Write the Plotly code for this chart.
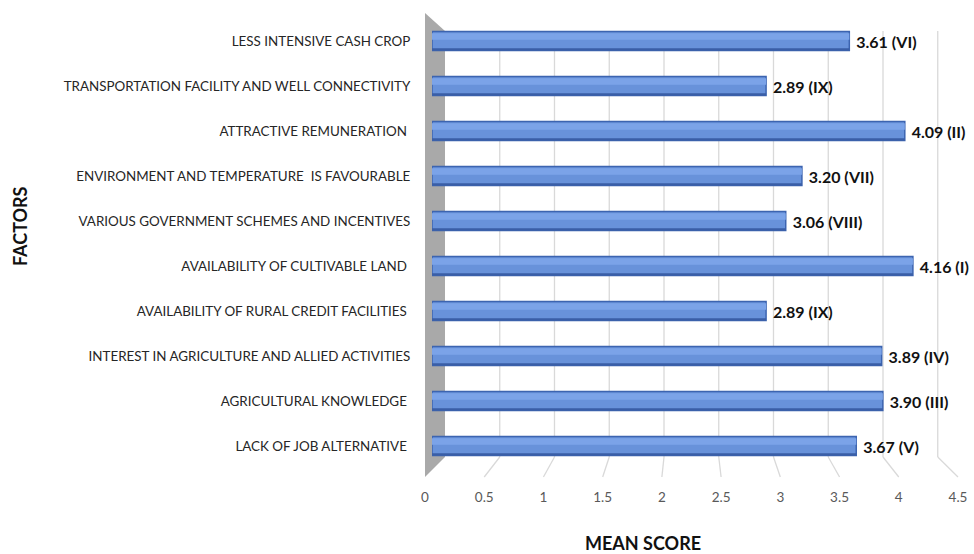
import plotly.graph_objects as go

# ---------------- data ----------------
factors = [
    "LACK OF JOB ALTERNATIVE\u00a0",
    "AGRICULTURAL KNOWLEDGE\u00a0",
    "INTEREST IN AGRICULTURE AND ALLIED ACTIVITIES",
    "AVAILABILITY OF RURAL CREDIT FACILITIES\u00a0",
    "AVAILABILITY OF CULTIVABLE LAND\u00a0",
    "VARIOUS GOVERNMENT SCHEMES AND INCENTIVES",
    "ENVIRONMENT AND TEMPERATURE  IS FAVOURABLE",
    "ATTRACTIVE REMUNERATION\u00a0",
    "TRANSPORTATION FACILITY AND WELL CONNECTIVITY",
    "LESS INTENSIVE CASH CROP",
]
mean_scores = [3.67, 3.90, 3.89, 2.89, 4.16, 3.06, 3.20, 4.09, 2.89, 3.61]
ranks = ["V", "III", "IV", "IX", "I", "VIII", "VII", "II", "IX", "VI"]
tick_values = [0, 0.5, 1, 1.5, 2, 2.5, 3, 3.5, 4, 4.5]
tick_labels = ["0", "0.5", "1", "1.5", "2", "2.5", "3", "3.5", "4", "4.5"]

bar_text = [f"\u00a0{v:.2f} ({r})" for v, r in zip(mean_scores, ranks)]

# ---------------- geometry (pixels) ----------------
W, H = 974, 554
BAR_X0, BAR_PX = 432, 115.6        # bars: value 0 position, px per unit
FRONT_X0, FRONT_PX = 425, 118.44   # tick label line
BACK_X0, BACK_PX = 445, 109.5      # back wall gridlines
BACK_TOP, BACK_BOT, FLOOR_FRONT = 31, 457, 477
WALL_TOP = 13
Y_TOP, Y_BOT = 18.5, 468.5          # category band extent

px = lambda x: x / W
py = lambda y: 1 - y / H

fig = go.Figure()

# main bar body (front face with dark outline)
fig.add_trace(go.Bar(
    y=factors, x=mean_scores, orientation="h",
    width=0.42,
    marker=dict(color="#6892da", line=dict(color="#3c64b0", width=1.5)),
    text=bar_text, textposition="outside", cliponaxis=False,
    constraintext="none",
    textfont=dict(family="Lato", size=16, color="#111111", weight="bold"),
    hoverinfo="skip", showlegend=False,
))
# lighter upper band
fig.add_trace(go.Bar(
    y=factors, x=mean_scores, orientation="h",
    width=0.14, offset=0.03,
    marker=dict(color="#7ba3e8", line=dict(width=0)),
    hoverinfo="skip", showlegend=False,
))
# darker bottom face
fig.add_trace(go.Bar(
    y=factors, x=mean_scores, orientation="h",
    width=0.05, offset=-0.21,
    marker=dict(color="#3a5ea6", line=dict(width=0)),
    hoverinfo="skip", showlegend=False,
))
# dummy trace to carry the tick-label axis
fig.add_trace(go.Scatter(
    x=[tick_values[0]], y=[factors[0]], xaxis="x2", mode="markers",
    marker=dict(opacity=0), hoverinfo="skip", showlegend=False,
))

shapes = []
# grey side wall
shapes.append(dict(
    type="path", xref="paper", yref="paper", layer="below",
    path=(f"M {px(FRONT_X0)} {py(WALL_TOP)} L {px(BACK_X0)} {py(BACK_TOP)} "
          f"L {px(BACK_X0)} {py(BACK_BOT)} L {px(FRONT_X0)} {py(FLOOR_FRONT)} Z"),
    fillcolor="#a9a9a9", line=dict(width=0),
))
for v in tick_values[1:]:
    xb = BACK_X0 + BACK_PX * v
    xf = FRONT_X0 + FRONT_PX * v
    shapes.append(dict(type="line", xref="paper", yref="paper", layer="below",
                       x0=px(xb), x1=px(xb), y0=py(BACK_TOP), y1=py(BACK_BOT),
                       line=dict(color="#d9d9d9", width=1.3)))
    shapes.append(dict(type="line", xref="paper", yref="paper", layer="below",
                       x0=px(xb), x1=px(xf), y0=py(BACK_BOT), y1=py(FLOOR_FRONT),
                       line=dict(color="#d9d9d9", width=1.3)))

fig.update_layout(
    width=W, height=H,
    margin=dict(l=0, r=0, t=0, b=0),
    paper_bgcolor="white", plot_bgcolor="rgba(0,0,0,0)",
    barmode="overlay",
    shapes=shapes,
    font=dict(family="Lato", color="#262626"),
    xaxis=dict(
        domain=[px(BAR_X0), 1],
        range=[0, (W - BAR_X0) / BAR_PX],
        showgrid=False, zeroline=False, showline=False, showticklabels=False,
    ),
    xaxis2=dict(
        domain=[0, 1], anchor="free", position=py(487),
        range=[-FRONT_X0 / FRONT_PX, (W - FRONT_X0) / FRONT_PX],
        tickvals=tick_values, ticktext=tick_labels,
        showgrid=False, zeroline=False, showline=False, ticks="",
        tickfont=dict(family="Lato", size=13.5, color="#595959"),
    ),
    yaxis=dict(
        domain=[py(Y_BOT), py(Y_TOP)],
        categoryorder="array", categoryarray=factors,
        range=[-0.5, len(factors) - 0.5],
        showgrid=False, zeroline=False, showline=False,
        ticks="outside", ticklen=18, tickcolor="rgba(0,0,0,0)",
        tickfont=dict(family="Lato", size=13.4, color="#262626"),
        automargin=False,
    ),
    annotations=[
        dict(text="<b>MEAN SCORE</b>", xref="paper", yref="paper",
             x=px(643), y=py(543), xanchor="center", yanchor="middle",
             showarrow=False,
             font=dict(family="Lato", size=18, color="#111111")),
        dict(text="<b>FACTORS</b>", xref="paper", yref="paper",
             x=px(20), y=py(226), xanchor="center", yanchor="middle",
             showarrow=False, textangle=-90,
             font=dict(family="Lato", size=18, color="#111111")),
    ],
)

fig.write_html("out.html")
